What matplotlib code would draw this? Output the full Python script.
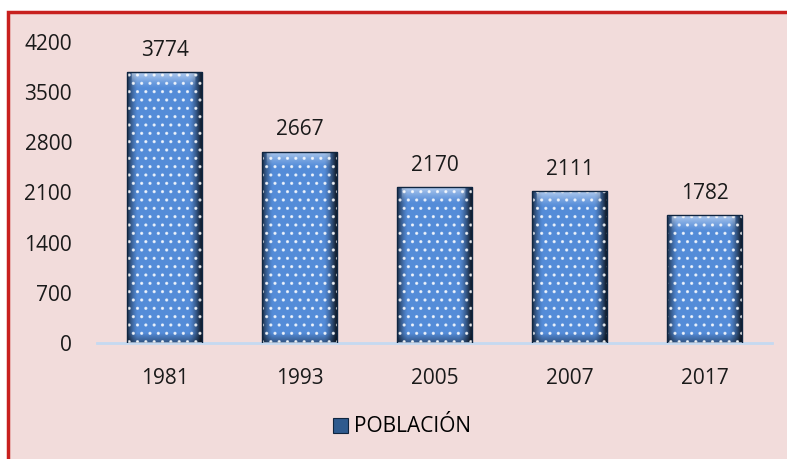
import numpy as np
import matplotlib.pyplot as plt
from matplotlib.patches import Rectangle

years = ['1981', '1993', '2005', '2007', '2017']
poblacion = [3774, 2667, 2170, 2111, 1782]
yticks = [0, 700, 1400, 2100, 2800, 3500, 4200]

bg = '#F2DCDB'
plt.rcParams['font.family'] = ['Open Sans', 'DejaVu Sans']
plt.rcParams['hatch.linewidth'] = 1.1

fig = plt.figure(figsize=(7.87, 4.59), dpi=100)
fig.patch.set_facecolor('white')
# chart area with red frame
fig.patches.append(Rectangle((8 / 787, -0.02), 1.0, 1 - 12 / 459 + 0.02,
                             transform=fig.transFigure, facecolor=bg,
                             edgecolor='#C8201E', linewidth=2.5, zorder=-1))

ax = fig.add_axes([97 / 787, 1 - 343 / 459, (772 - 97) / 787, (343 - 41.5) / 459])
ax.set_facecolor('none')
ax.set_zorder(1)

x = np.arange(len(years))
bars = ax.bar(x, poblacion, width=0.56, color='#4A7EBB', edgecolor='none',
              linewidth=0, zorder=2)

# shading: dark sides, lighter centre, bevelled top
cols = np.linspace(0, 1, 80)
d = np.abs(cols - 0.48)
prof = 1 - 0.78 * np.clip((d - 0.34) / 0.16, 0, 1) ** 1.4
base = np.array([0.33, 0.55, 0.85])
for b in bars:
    x0, y0 = b.get_x(), b.get_y()
    w, h = b.get_width(), b.get_height()
    ny = 300
    img = np.ones((ny, 80, 3)) * base
    img *= prof[None, :, None]
    # top bevel highlight (about 16 px tall)
    bev = 16 / 301 * 4200
    rows = np.linspace(h, 0, ny)
    top = np.clip((rows - (h - bev)) / bev, 0, 1) ** 1.3
    hl = top[:, None, None] * 0.55
    img = img + (1 - img) * hl * (prof[None, :, None] > 0.7)
    # bottom darkening
    bot = np.clip(1 - rows / (bev * 0.6), 0, 1)
    img = img * (1 - 0.4 * bot[:, None, None])
    im = ax.imshow(np.clip(img, 0, 1), extent=[x0, x0 + w, y0, y0 + h],
                   aspect='auto', zorder=2.5, interpolation='bilinear')
    im.set_clip_path(b)
    # white dot pattern
    ax.add_patch(Rectangle((x0, y0), w, h, facecolor='none', edgecolor=(1, 1, 1, 0.75),
                           linewidth=0, hatch='..', zorder=3))
    ax.add_patch(Rectangle((x0, y0), w, h, facecolor='none', edgecolor='#0F2540',
                           linewidth=1.0, zorder=3.5))

for xi, v in zip(x, poblacion):
    ax.annotate(str(v), (xi, v), xytext=(0, 8), textcoords='offset points',
                ha='center', va='bottom', fontsize=15, color='#1a1a1a')

ax.set_xlim(-0.5, len(years) - 0.5)
ax.set_ylim(0, 4200)
ax.set_yticks(yticks)
ax.set_xticks(x)
ax.set_xticklabels(years)
ax.tick_params(axis='both', length=0, labelsize=15, colors='#1a1a1a')
ax.tick_params(axis='y', pad=18)
ax.tick_params(axis='x', pad=18)
for s in ['left', 'right', 'top']:
    ax.spines[s].set_visible(False)
ax.spines['bottom'].set_color('#C5D9F1')
ax.spines['bottom'].set_linewidth(2)

handle = Rectangle((0, 0), 1, 1, facecolor='#2F5A8E', edgecolor='#10253F', linewidth=0.8)
fig.legend([handle], ['POBLACIÓN'], loc='center', bbox_to_anchor=(402 / 787, 1 - 427 / 459),
           frameon=False, fontsize=15, handlelength=0.75, handleheight=0.75,
           handletextpad=0.3)

fig.savefig('out.png', dpi=100, facecolor=fig.get_facecolor())
